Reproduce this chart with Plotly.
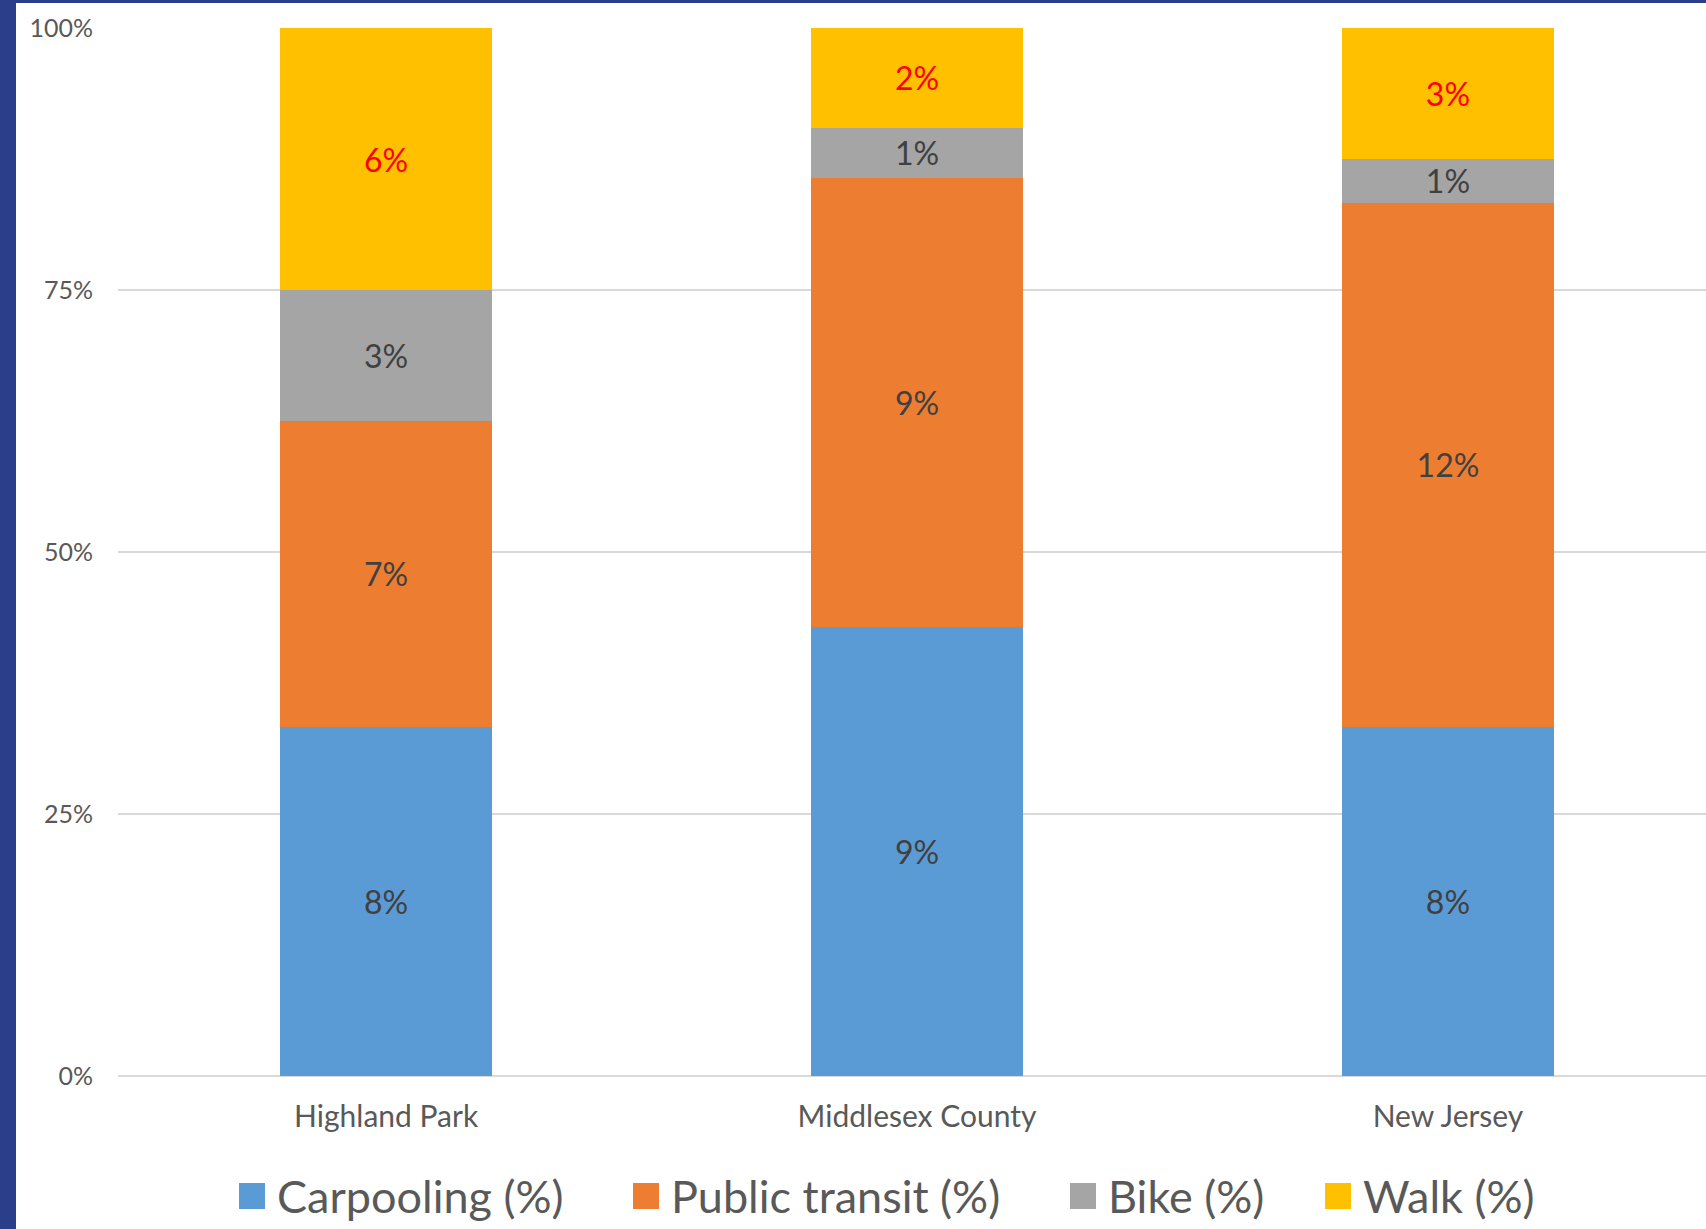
import plotly.graph_objects as go

categories = ["Highland Park", "Middlesex County", "New Jersey"]
series_names = ["Carpooling (%)", "Public transit (%)", "Bike (%)", "Walk (%)"]
carpooling = [8, 9, 8]
public_transit = [7, 9, 12]
bike = [3, 1, 1]
walk = [6, 2, 3]
y_tick_vals = [0, 25, 50, 75, 100]
y_tick_text = ["0%", "25%", "50%", "75%", "100%"]

colors = ["#5B9BD5", "#ED7D31", "#A5A5A5", "#FFC000"]
label_colors = ["#404040", "#404040", "#404040", "#FF0000"]
series_values = [carpooling, public_transit, bike, walk]

W, H = 1706, 1229
ML, MR, MT, MB = 118, 0, 28, 153
PW, PH = W - ML - MR, H - MT - MB


def px_x(p):
    return (p - ML) / PW


def px_y(p):
    return (H - MB - p) / PH


FONT = "Lato, Open Sans, sans-serif"

fig = go.Figure()
for name, vals, col, lcol in zip(series_names, series_values, colors, label_colors):
    fig.add_trace(go.Bar(
        x=categories, y=vals, name=name,
        marker=dict(color=col, line=dict(width=0)),
        text=[f"{v}%" for v in vals],
        textposition="inside", insidetextanchor="middle",
        constraintext="none",
        textfont=dict(family=FONT, size=32, color=lcol),
        showlegend=False,
    ))

shapes = [
    dict(type="rect", xref="paper", yref="paper", x0=px_x(0), x1=px_x(16), y0=px_y(H), y1=px_y(0),
         fillcolor="#2B3E8A", line=dict(width=0), layer="above"),
    dict(type="rect", xref="paper", yref="paper", x0=px_x(0), x1=px_x(W), y0=px_y(3), y1=px_y(0),
         fillcolor="#2B3E8A", line=dict(width=0), layer="above"),
]

annotations = []
marker_left = [239, 633, 1070, 1325]
legend_cy = 1196
msz = 26
for name, col, mx in zip(series_names, colors, marker_left):
    shapes.append(dict(type="rect", xref="paper", yref="paper",
                       x0=px_x(mx), x1=px_x(mx + msz),
                       y0=px_y(legend_cy + msz / 2), y1=px_y(legend_cy - msz / 2),
                       fillcolor=col, line=dict(width=0), layer="above"))
    annotations.append(dict(xref="paper", yref="paper", x=px_x(mx + msz + 10), y=px_y(legend_cy),
                            xanchor="left", yanchor="middle", text=name, showarrow=False,
                            font=dict(family=FONT, size=45, color="#595959")))

fig.update_layout(
    width=W, height=H,
    margin=dict(l=ML, r=MR, t=MT, b=MB),
    barmode="stack", barnorm="percent", bargap=0.6,
    paper_bgcolor="white", plot_bgcolor="white",
    showlegend=False,
    shapes=shapes, annotations=annotations,
    xaxis=dict(range=[-0.505, 2.486], showgrid=False, zeroline=False,
               showline=False, ticks="",
               tickfont=dict(family=FONT, size=30, color="#595959"),
               ticklabelstandoff=20),
    yaxis=dict(range=[0, 100], tickvals=y_tick_vals, ticktext=y_tick_text,
               showgrid=True, gridcolor="#D9D9D9", gridwidth=2,
               zeroline=True, zerolinecolor="#D9D9D9", zerolinewidth=2,
               showline=False, ticks="",
               tickfont=dict(family=FONT, size=25, color="#595959"),
               ticklabelstandoff=24),
)

fig.write_html("out.html")
